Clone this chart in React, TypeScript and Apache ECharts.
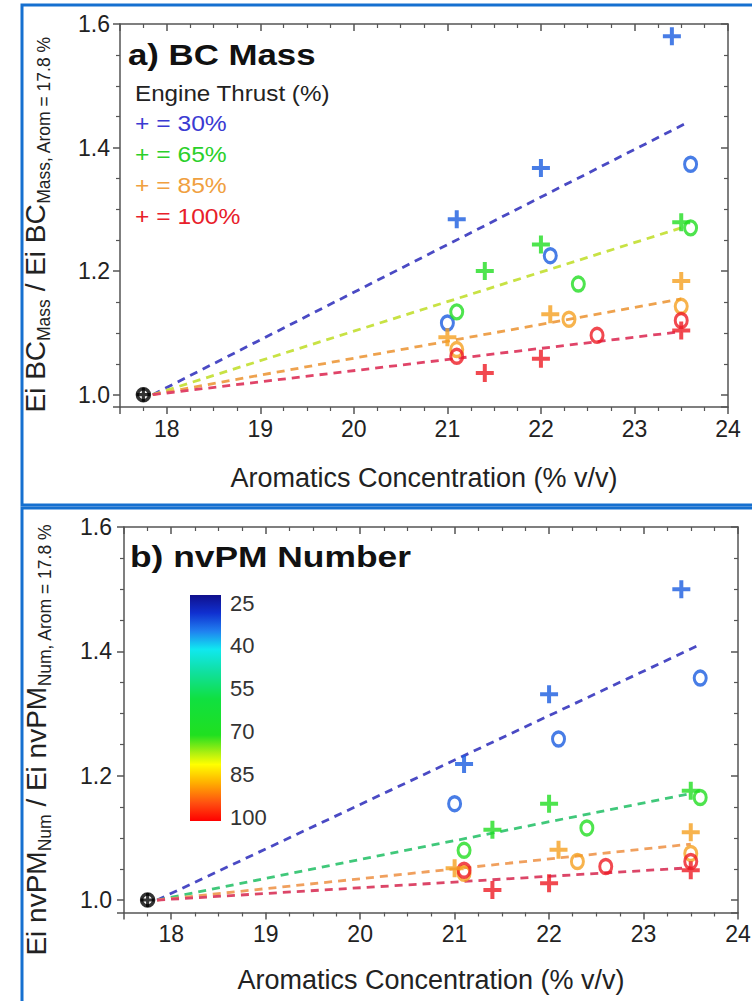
import React, { useEffect, useRef } from "react";
import * as echarts from "echarts";

// ---------- data ----------
const thrustLabels = ["30%", "65%", "85%", "100%"];
const markerColors = ["#1a5ce0", "#22dd22", "#f5a020", "#ee1c24"];
const legendColors = ["#3a3ad2", "#2ad02a", "#f0a040", "#e8202a"];
const trendColorsBC = ["#4a4ac4", "#c8e244", "#eea24e", "#e04468"];
const trendColorsNum = ["#4a4ac4", "#40c87a", "#f0a05e", "#dc4668"];

const xTicks = [18, 19, 20, 21, 22, 23, 24];
const yTicks = [1.0, 1.2, 1.4, 1.6];
const colorbarTicks = [25, 40, 55, 70, 85, 100];

// aromatics concentration of the "+" fuels, per thrust
const plusX30 = [21.1, 22.0, 23.4];
const plusX65 = [21.4, 22.0, 23.5];
const plusX85 = [21.0, 22.1, 23.5];
const plusX100 = [21.4, 22.0, 23.5];
// aromatics concentration of the "o" fuels, per thrust
const circX30 = [21.0, 22.1, 23.6];
const circX65 = [21.1, 22.4, 23.6];
const circX85 = [21.1, 22.3, 23.5];
const circX100 = [21.1, 22.6, 23.5];

// a) BC mass ratios
const bcPlus30 = [1.284, 1.367, 1.58];
const bcPlus65 = [1.2, 1.243, 1.279];
const bcPlus85 = [1.093, 1.13, 1.184];
const bcPlus100 = [1.035, 1.058, 1.104];
const bcCirc30 = [1.116, 1.225, 1.373];
const bcCirc65 = [1.134, 1.179, 1.27];
const bcCirc85 = [1.073, 1.122, 1.143];
const bcCirc100 = [1.062, 1.096, 1.12];

// b) nvPM number ratios
const numPlus30 = [1.219, 1.331, 1.5];
const numPlus65 = [1.113, 1.155, 1.176];
const numPlus85 = [1.051, 1.081, 1.109];
const numPlus100 = [1.016, 1.027, 1.048];
const numCirc30 = [1.155, 1.259, 1.357];
const numCirc65 = [1.08, 1.116, 1.165];
const numCirc85 = [1.043, 1.062, 1.075];
const numCirc100 = [1.048, 1.054, 1.062];

// reference fuel
const refX = 17.75;
const refY = 1.0;

// dashed trend lines: start and end points
const trendStartX = 17.85;
const bcTrendEndX = [23.56, 23.5, 23.5, 23.5];
const bcTrendEndY = [1.44, 1.27, 1.155, 1.102];
const numTrendEndX = [23.6, 23.52, 23.5, 23.5];
const numTrendEndY = [1.411, 1.172, 1.09, 1.052];

const plusXs = [plusX30, plusX65, plusX85, plusX100];
const circXs = [circX30, circX65, circX85, circX100];

// ---------- styling ----------
const FONT = "Liberation Sans";
const AXIS = "#555";
const TEXT = "#222";
const PLUS = "path://M7,0H11V7H18V11H11V18H7V11H0V7H7Z";
const RING = "path://M10,0A10,10,0,1,1,10,20A10,10,0,1,1,10,0Z";

const zip = (xs: number[], ys: number[]) => xs.map((x, i) => [x, ys[i]]);

function xAxes(g: number, nameGap: number) {
  const base: any = {
    type: "value",
    gridIndex: g,
    min: 17.5,
    max: 24,
    splitNumber: 5,
    splitLine: { show: false },
    axisLine: { show: true, onZero: false, lineStyle: { color: AXIS, width: 1.5 } },
    minorTick: { show: true, splitNumber: 4, length: 4, lineStyle: { color: AXIS, width: 1.2 } },
    minorSplitLine: { show: false },
  };
  return [
    {
      ...base,
      position: "bottom",
      axisTick: { show: true, inside: false, length: 7, lineStyle: { color: AXIS, width: 1.5 } },
      axisLabel: {
        show: true,
        margin: 10,
        fontSize: 23,
        color: TEXT,
        fontFamily: FONT,
        formatter: (v: number) => {
          const t = xTicks.find((k) => Math.abs(k - v) < 1e-6);
          return t === undefined ? "" : String(t);
        },
      },
      name: "Aromatics Concentration (% v/v)",
      nameLocation: "middle",
      nameGap,
      nameMoveOverlap: false,
      nameTextStyle: { fontSize: 27, color: TEXT, fontFamily: FONT },
    },
    {
      ...base,
      position: "top",
      axisTick: { show: true, inside: true, length: 7, lineStyle: { color: AXIS, width: 1.5 } },
      axisLabel: { show: false },
    },
  ];
}

function yAxes(g: number, name: string, nameGap: number, labelMargin: number, shift: number) {
  const base: any = {
    type: "value",
    gridIndex: g,
    min: 0.98,
    max: 1.6,
    splitNumber: 3,
    splitLine: { show: false },
    axisLine: { show: true, onZero: false, lineStyle: { color: AXIS, width: 1.5 } },
    minorTick: { show: true, splitNumber: 4, length: 4, lineStyle: { color: AXIS, width: 1.2 } },
    minorSplitLine: { show: false },
  };
  return [
    {
      ...base,
      position: "left",
      axisTick: { show: true, inside: false, length: 7, lineStyle: { color: AXIS, width: 1.5 } },
      axisLabel: {
        show: true,
        margin: labelMargin,
        fontSize: 23,
        color: TEXT,
        fontFamily: FONT,
        formatter: (v: number) => {
          const t = yTicks.find((k) => Math.abs(k - v) < 1e-6);
          return t === undefined ? "" : t.toFixed(1);
        },
      },
      name,
      nameLocation: "middle",
      nameRotate: 90,
      nameGap,
      nameMoveOverlap: false,
      nameTextStyle: {
        color: TEXT,
        fontFamily: FONT,
        padding: [0, shift, 0, 0],
        rich: {
          m: { fontSize: 28, lineHeight: 36, color: TEXT, fontFamily: FONT },
          s: { fontSize: 17.5, lineHeight: 18, padding: [18, 0, 0, 0], color: TEXT, fontFamily: FONT },
        },
      },
    },
    {
      ...base,
      position: "right",
      axisTick: { show: true, inside: true, length: 7, lineStyle: { color: AXIS, width: 1.5 } },
      axisLabel: { show: false },
    },
  ];
}

function panelSeries(
  tag: string,
  xi: number,
  plusYs: number[][],
  circYs: number[][],
  endX: number[],
  endY: number[],
  trendColors: string[]
) {
  const out: any[] = [];
  thrustLabels.forEach((lab, i) => {
    out.push({
      name: `${tag} trend ${lab}`,
      type: "line",
      xAxisIndex: xi,
      yAxisIndex: xi,
      data: [
        [trendStartX, refY],
        [endX[i], endY[i]],
      ],
      symbol: "none",
      silent: true,
      z: 2,
      lineStyle: { color: trendColors[i], width: 2.8, type: [8, 6] },
    });
  });
  thrustLabels.forEach((lab, i) => {
    out.push({
      name: `${tag} ${lab} (o)`,
      type: "scatter",
      xAxisIndex: xi,
      yAxisIndex: xi,
      data: zip(circXs[i], circYs[i]),
      symbol: RING,
      symbolSize: [12, 14],
      symbolKeepAspect: false,
      z: 3,
      itemStyle: { color: "rgba(255,255,255,0)", borderColor: markerColors[i], borderWidth: 3.2 },
    });
    out.push({
      name: `${tag} ${lab} (+)`,
      type: "scatter",
      xAxisIndex: xi,
      yAxisIndex: xi,
      data: zip(plusXs[i], plusYs[i]),
      symbol: PLUS,
      symbolSize: 18,
      z: 4,
      itemStyle: { color: markerColors[i] },
    });
  });
  out.push({
    name: `${tag} reference (o)`,
    type: "scatter",
    xAxisIndex: xi,
    yAxisIndex: xi,
    data: [[refX, refY]],
    symbol: RING,
    symbolSize: 12,
    z: 5,
    itemStyle: { color: "rgba(255,255,255,0)", borderColor: "#000", borderWidth: 3.5 },
  });
  out.push({
    name: `${tag} reference (+)`,
    type: "scatter",
    xAxisIndex: xi,
    yAxisIndex: xi,
    data: [[refX, refY]],
    symbol: PLUS,
    symbolSize: 14,
    z: 5,
    itemStyle: { color: "#000" },
  });
  return out;
}

function buildOption(): any {
  const legendTexts = thrustLabels.map((lab, i) => ({
    type: "text",
    x: 135,
    y: 123 + 31 * i,
    scaleX: 1.12,
    style: {
      text: `+ = ${lab}`,
      fontSize: 22,
      fontFamily: FONT,
      fill: legendColors[i],
      align: "left",
      verticalAlign: "middle",
    },
  }));

  return {
    animation: false,
    backgroundColor: "#ffffff",
    textStyle: { fontFamily: FONT },
    grid: [
      { left: 120, top: 24, width: 608, height: 383, outerBoundsMode: "none" },
      { left: 124, top: 527, width: 614, height: 385.5, outerBoundsMode: "none" },
      { left: 190, top: 603, width: 31, height: 214, outerBoundsMode: "none" },
    ],
    xAxis: [
      ...xAxes(0, 57),
      ...xAxes(1, 54),
      { type: "value", gridIndex: 2, show: false, min: 0, max: 1 },
    ],
    yAxis: [
      ...yAxes(0, "{m|Ei BC}{s|Mass}{m| / Ei BC}{s|Mass, Arom = 17.8 %}", 67, 10, 18),
      ...yAxes(1, "{m|Ei nvPM}{s|Num}{m| / Ei nvPM}{s|Num, Arom = 17.8 %}", 70, 12, 40),
      {
        type: "value",
        gridIndex: 2,
        position: "right",
        inverse: true,
        min: colorbarTicks[0],
        max: colorbarTicks[colorbarTicks.length - 1],
        interval: colorbarTicks[1] - colorbarTicks[0],
        splitLine: { show: false },
        axisLine: { show: false },
        axisTick: { show: false },
        axisLabel: { show: true, margin: 9, fontSize: 22, color: "#333", fontFamily: FONT },
      },
    ],
    series: [
      ...panelSeries(
        "BC",
        0,
        [bcPlus30, bcPlus65, bcPlus85, bcPlus100],
        [bcCirc30, bcCirc65, bcCirc85, bcCirc100],
        bcTrendEndX,
        bcTrendEndY,
        trendColorsBC
      ),
      ...panelSeries(
        "nvPM",
        2,
        [numPlus30, numPlus65, numPlus85, numPlus100],
        [numCirc30, numCirc65, numCirc85, numCirc100],
        numTrendEndX,
        numTrendEndY,
        trendColorsNum
      ),
      { type: "scatter", xAxisIndex: 4, yAxisIndex: 4, data: [], silent: true },
    ],
    graphic: [
      {
        type: "rect",
        shape: { x: 22, y: 5, width: 740, height: 500 },
        style: { fill: "none", stroke: "#1670d0", lineWidth: 3 },
        silent: true,
      },
      {
        type: "rect",
        shape: { x: 22, y: 508, width: 740, height: 500 },
        style: { fill: "none", stroke: "#1670d0", lineWidth: 3 },
        silent: true,
      },
      {
        type: "text",
        x: 128,
        y: 55,
        scaleX: 1.2,
        style: {
          text: "a) BC Mass",
          fontSize: 29,
          fontWeight: "bold",
          fontFamily: FONT,
          fill: "#111",
          align: "left",
          verticalAlign: "middle",
        },
      },
      {
        type: "text",
        x: 135,
        y: 93,
        scaleX: 1.1,
        style: {
          text: "Engine Thrust (%)",
          fontSize: 22,
          fontFamily: FONT,
          fill: TEXT,
          align: "left",
          verticalAlign: "middle",
        },
      },
      ...legendTexts,
      {
        type: "text",
        x: 130,
        y: 557,
        scaleX: 1.22,
        style: {
          text: "b) nvPM Number",
          fontSize: 29,
          fontWeight: "bold",
          fontFamily: FONT,
          fill: "#111",
          align: "left",
          verticalAlign: "middle",
        },
      },
      {
        type: "rect",
        shape: { x: 190, y: 595, width: 31, height: 226 },
        style: {
          fill: {
            type: "linear",
            x: 0,
            y: 0,
            x2: 0,
            y2: 1,
            colorStops: [
              { offset: 0, color: "#10108c" },
              { offset: 0.08, color: "#1030d0" },
              { offset: 0.16, color: "#2080f0" },
              { offset: 0.24, color: "#10e8f0" },
              { offset: 0.34, color: "#10e0a0" },
              { offset: 0.46, color: "#10e040" },
              { offset: 0.62, color: "#20e020" },
              { offset: 0.7, color: "#b0f010" },
              { offset: 0.75, color: "#ffff00" },
              { offset: 0.83, color: "#ffb000" },
              { offset: 0.92, color: "#ff5010" },
              { offset: 1, color: "#ff0000" },
            ],
          },
        },
        silent: true,
      },
    ],
  };
}

export default function App() {
  const ref = useRef<HTMLDivElement | null>(null);
  useEffect(() => {
    if (!ref.current) return;
    const chart = echarts.init(ref.current, null, { renderer: "svg" });
    chart.setOption(buildOption());
    return () => chart.dispose();
  }, []);
  return (
    <div
      ref={ref}
      style={{ position: "absolute", left: 0, top: 0, width: 752, height: 1001, background: "#fff" }}
    />
  );
}
